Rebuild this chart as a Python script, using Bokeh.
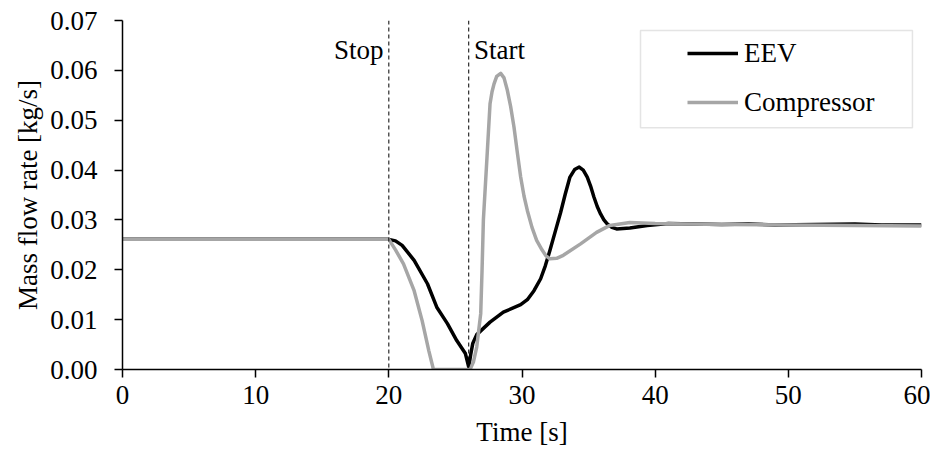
from bokeh.plotting import figure
from bokeh.models import Range1d, FixedTicker, NumeralTickFormatter, Span, Legend, LegendItem, BoxAnnotation, Label
from bokeh.embed import file_html
from bokeh.resources import INLINE

# ---- data ----
t_eev = [0, 20, 20.5, 21.0, 21.9, 22.9, 23.6, 24.4, 25.1, 25.75, 26.0, 26.15, 26.3, 26.6, 27.6, 28.6,
         29.9, 30.4, 30.9, 31.4, 31.75, 32.1, 32.5, 32.9, 33.25, 33.6, 33.95, 34.3, 34.6, 34.9, 35.15,
         35.4, 35.65, 35.9, 36.15, 36.4, 36.75, 37.1, 38.1, 39.4, 41, 43, 45, 47, 49, 52, 55, 57, 60]
eev = [0.0261, 0.0261, 0.0258, 0.0249, 0.0219, 0.0172, 0.0125, 0.0092, 0.0058, 0.0032, 0.0005, 0.0030,
       0.0052, 0.0070, 0.0095, 0.0115, 0.0130, 0.0140, 0.0158, 0.0182, 0.0208, 0.0239, 0.0277, 0.0315,
       0.0352, 0.0386, 0.0401, 0.0406, 0.0400, 0.0386, 0.0368, 0.0346, 0.0327, 0.0312, 0.0300, 0.0292,
       0.0285, 0.0282, 0.0284, 0.0289, 0.0293, 0.0292, 0.0291, 0.0292, 0.0290, 0.0291, 0.0292, 0.0290,
       0.0290]

t_comp = [0, 20, 20.5, 21.1, 21.9, 22.5, 23.0, 23.35, 26.1, 26.35, 26.6, 26.9, 27.0, 27.1, 27.4, 27.6,
          27.75, 27.9, 28.1, 28.4, 28.65, 28.9, 29.15, 29.4, 29.65, 29.9, 30.15, 30.4, 30.75, 31.1,
          31.5, 31.8, 32.1, 32.6, 33.1, 34.4, 35.6, 36.6, 38.1, 40, 45, 50, 55, 60]
comp = [0.0261, 0.0261, 0.0240, 0.0212, 0.0158, 0.0098, 0.0038, 0.0, 0.0, 0.0015, 0.0045, 0.0112,
        0.0199, 0.0300, 0.0439, 0.0533, 0.0557, 0.0573, 0.0588, 0.0594, 0.0585, 0.0560, 0.0527, 0.0486,
        0.0435, 0.0386, 0.0348, 0.0319, 0.0285, 0.0259, 0.0240, 0.0228, 0.0222, 0.0223, 0.0229, 0.0252,
        0.0275, 0.0289, 0.0295, 0.0293, 0.0291, 0.0290, 0.0289, 0.0288]

x_ticks = [0, 10, 20, 30, 40, 50, 60]
y_ticks = [0.00, 0.01, 0.02, 0.03, 0.04, 0.05, 0.06, 0.07]
event_times = [20, 26]
event_labels = ["Stop", "Start"]
series_names = ["EEV", "Compressor"]

FONT = "'Liberation Serif', 'Times New Roman', serif"
FS = "27px"

p = figure(width=930, height=449, frame_width=799, frame_height=349,
           min_border_left=122, min_border_top=20, min_border_right=9, min_border_bottom=80,
           x_range=Range1d(0, 60), y_range=Range1d(0, 0.07),
           output_backend="svg", toolbar_location=None)
p.outline_line_color = None
p.grid.visible = False
p.background_fill_color = "white"
p.border_fill_color = "white"

for ax in (p.xaxis[0], p.yaxis[0]):
    ax.axis_line_color = "black"
    ax.axis_line_width = 1.5
    ax.major_tick_line_color = "black"
    ax.major_tick_line_width = 1.5
    ax.major_tick_out = 8
    ax.major_tick_in = 0
    ax.minor_tick_line_color = None
    ax.major_label_text_font = FONT
    ax.major_label_text_font_size = FS
    ax.major_label_text_color = "black"
    ax.axis_label_text_font = FONT
    ax.axis_label_text_font_size = FS
    ax.axis_label_text_font_style = "normal"
    ax.axis_label_text_color = "black"

p.xaxis.ticker = FixedTicker(ticks=x_ticks)
p.yaxis.ticker = FixedTicker(ticks=y_ticks)
p.yaxis.formatter = NumeralTickFormatter(format="0.00")
p.xaxis.axis_label = "Time [s]"
p.yaxis.axis_label = "Mass flow rate [kg/s]"
p.xaxis.major_label_standoff = 8
p.yaxis.major_label_standoff = 17
p.xaxis.axis_label_standoff = 10
p.yaxis.axis_label_standoff = 4

# event markers
for t in event_times:
    p.add_layout(Span(location=t, dimension="height", line_color="black",
                      line_width=1, line_dash="4 3"))

p.add_layout(Label(x=event_times[0] - 0.4, y=0.0640, text=event_labels[0], text_align="right",
                   text_baseline="alphabetic", text_font=FONT, text_font_size=FS, text_color="black"))
p.add_layout(Label(x=event_times[1] + 0.4, y=0.0640, text=event_labels[1], text_align="left",
                   text_baseline="alphabetic", text_font=FONT, text_font_size=FS, text_color="black"))

r_eev = p.line(t_eev, eev, line_color="black", line_width=3.5, line_join="round")
r_comp = p.line(t_comp, comp, line_color="#a6a6a6", line_width=3.5, line_join="round")

# legend frame
p.add_layout(BoxAnnotation(left=38.9, right=59.32, bottom=0.0485, top=0.0680,
                           fill_alpha=0, line_color="#a6a6a6", line_width=1.5))

legend = Legend(items=[LegendItem(label=series_names[0], renderers=[r_eev]),
                       LegendItem(label=series_names[1], renderers=[r_comp])],
                location=(560, 244), orientation="vertical",
                padding=5, spacing=13, margin=0,
                glyph_width=51, glyph_height=36, label_height=36, label_width=150,
                label_standoff=6,
                label_text_font=FONT, label_text_font_size=FS, label_text_color="black",
                border_line_alpha=0, background_fill_alpha=0)
p.add_layout(legend)

open("out.html", "w").write(file_html(p, INLINE))
